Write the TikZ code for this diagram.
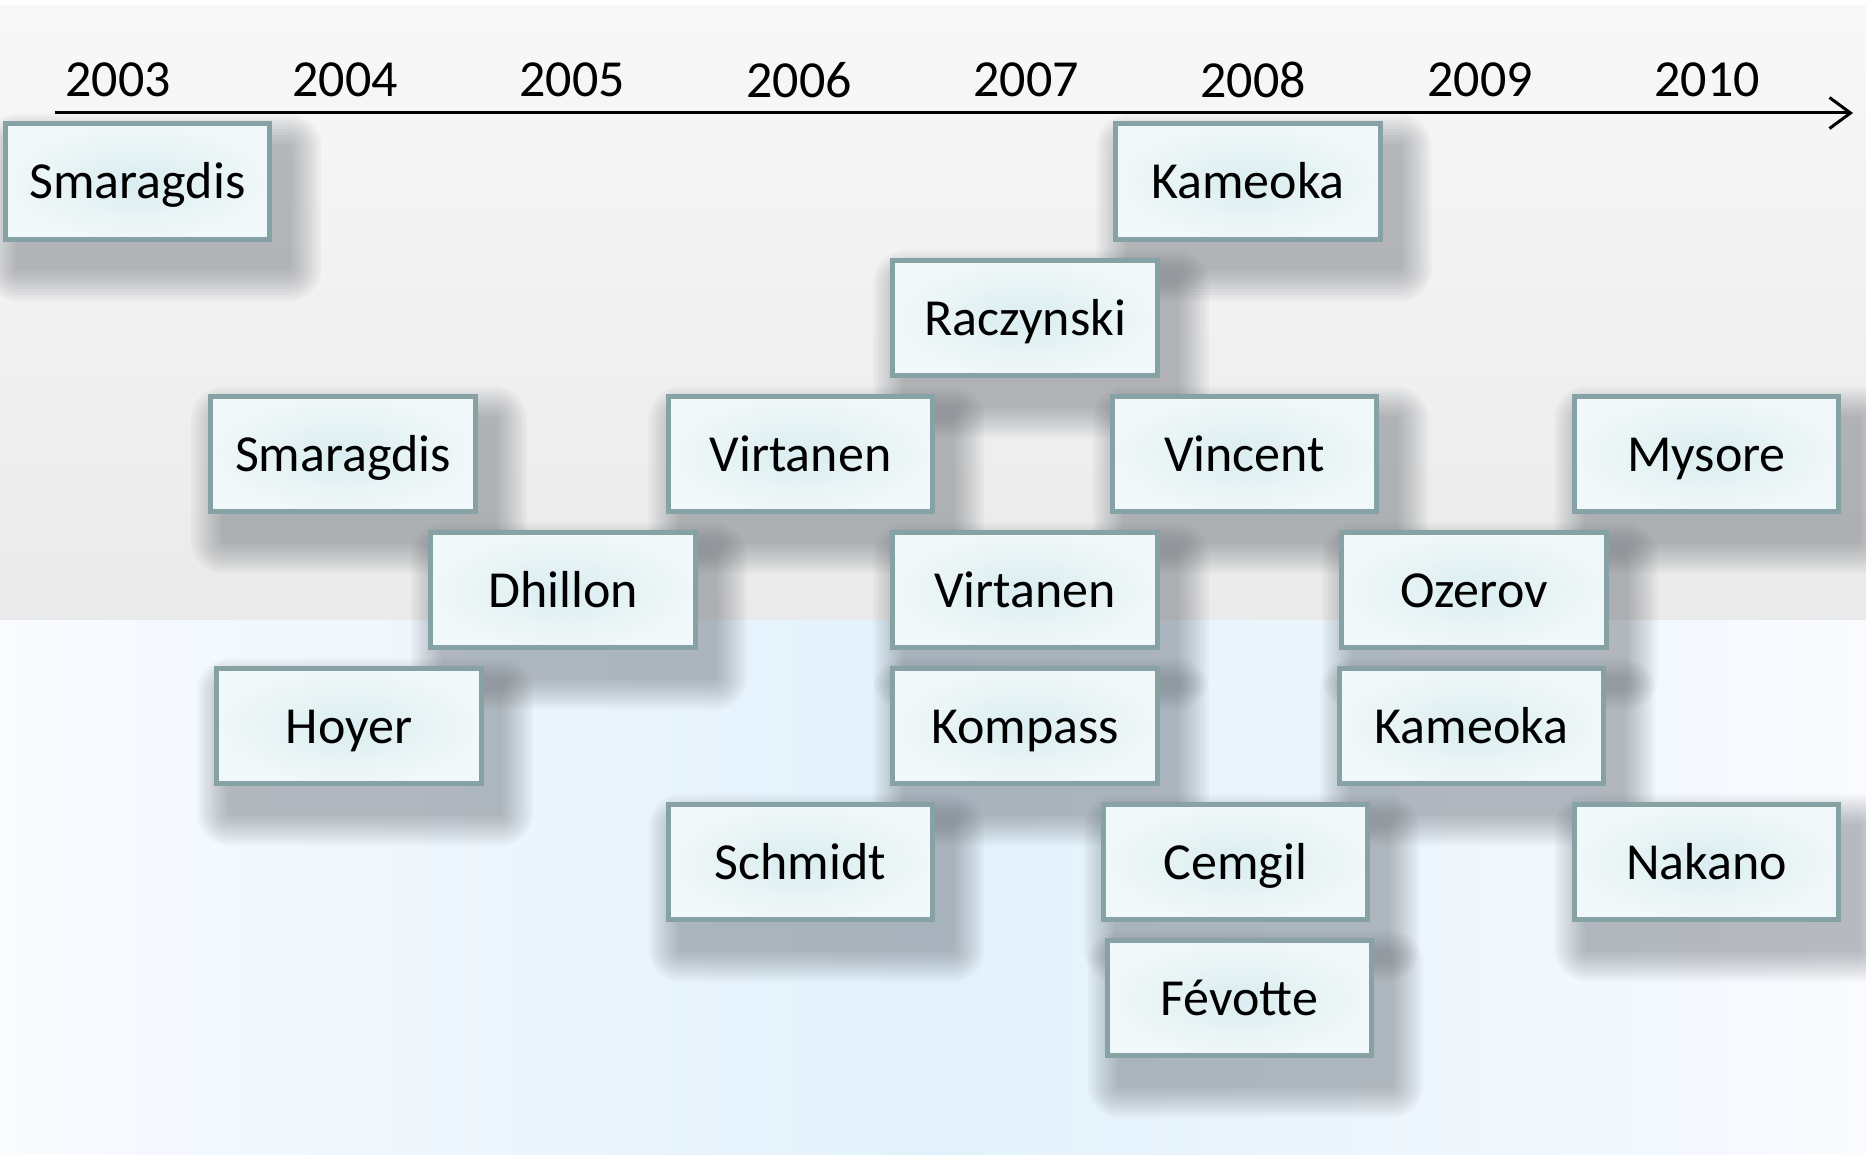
\documentclass[tikz,border=0pt]{standalone}
\usepackage{fontspec}
\setmainfont{Carlito}
\usetikzlibrary{arrows.meta,calc}
\pgfdeclarelayer{bands}
\pgfdeclarelayer{shadows}
\pgfsetlayers{bands,shadows,main}
\definecolor{boxline}{HTML}{86A2A5}
\definecolor{boxin}{HTML}{DAEDF0}
\definecolor{boxout}{HTML}{F1F8F9}
\definecolor{bandtop}{HTML}{F8F8F8}
\definecolor{bandgray}{HTML}{EAEAEA}
\definecolor{bandblue}{HTML}{E2F1FB}
\definecolor{bandedge}{HTML}{F9FBFE}
\definecolor{shadowgray}{HTML}{4A5058}

\begin{document}
\begin{tikzpicture}[x=0.02cm,y=-0.02cm,font=\fontsize{29.6}{36}\selectfont,
  paper/.style={draw=boxline,line width=0.1cm,inner color=boxin,outer color=boxout,
    minimum width=5.3cm,minimum height=2.32cm,inner sep=0pt,text height=19.5pt,text depth=0pt}]
\useasboundingbox (0,0) rectangle (1866,1155);
% background bands
\begin{pgfonlayer}{bands}
\shade[top color=bandtop,bottom color=bandgray] (0,6) rectangle (1866,620);
\shade[left color=bandedge,right color=bandedge,middle color=bandblue] (0,620) rectangle (1866,1155);
\end{pgfonlayer}
% time axis
\coordinate (tstart) at (55,113);
\coordinate (tend) at (1853,113);
\draw[line width=0.06cm,-{Straight Barb[length=0.42cm,width=0.62cm]}] (tstart)--(tend);
\foreach \yr [count=\i from 0] in {2003,...,2010} {\node (y\yr) at (118+227*\i,80) {\yr};}
% papers
\node[paper] (smaragdisA) at (137.5,181.5) {Smaragdis};
\node[paper] (kameokaA) at (1248,181.5) {Kameoka};
\node[paper] (raczynski) at (1025,318) {Raczynski};
\node[paper] (smaragdisB) at (343,454) {Smaragdis};
\node[paper] (virtanenA) at (800.5,454) {Virtanen};
\node[paper] (vincent) at (1244.5,454) {Vincent};
\node[paper] (mysore) at (1706.5,454) {Mysore};
\node[paper] (dhillon) at (563,590) {Dhillon};
\node[paper] (virtanenB) at (1025,590) {Virtanen};
\node[paper] (ozerov) at (1474,590) {Ozerov};
\node[paper] (hoyer) at (349,726) {Hoyer};
\node[paper] (kompass) at (1025,726) {Kompass};
\node[paper] (kameokaB) at (1471.5,726) {Kameoka};
\node[paper] (schmidt) at (800.5,862) {Schmidt};
\node[paper] (cemgil) at (1235.5,862) {Cemgil};
\node[paper] (nakano) at (1706.5,862) {Nakano};
\node[paper] (fevotte) at (1239.5,998) {Févotte};
% soft drop shadows
\begin{pgfonlayer}{shadows}
\foreach \n in {smaragdisA,kameokaA,raczynski,smaragdisB,virtanenA,vincent,mysore,dhillon,
  virtanenB,ozerov,hoyer,kompass,kameokaB,schmidt,cemgil,nakano,fevotte}
  \foreach \r in {3,6,...,33}
    \fill[shadowgray,opacity=0.038,rounded corners=\r*0.02cm]
      ($(\n.north west)+(16-\r,26-\r)$) rectangle ($(\n.south east)+(16+\r,26+\r)$);
\end{pgfonlayer}
\end{tikzpicture}
\end{document}
